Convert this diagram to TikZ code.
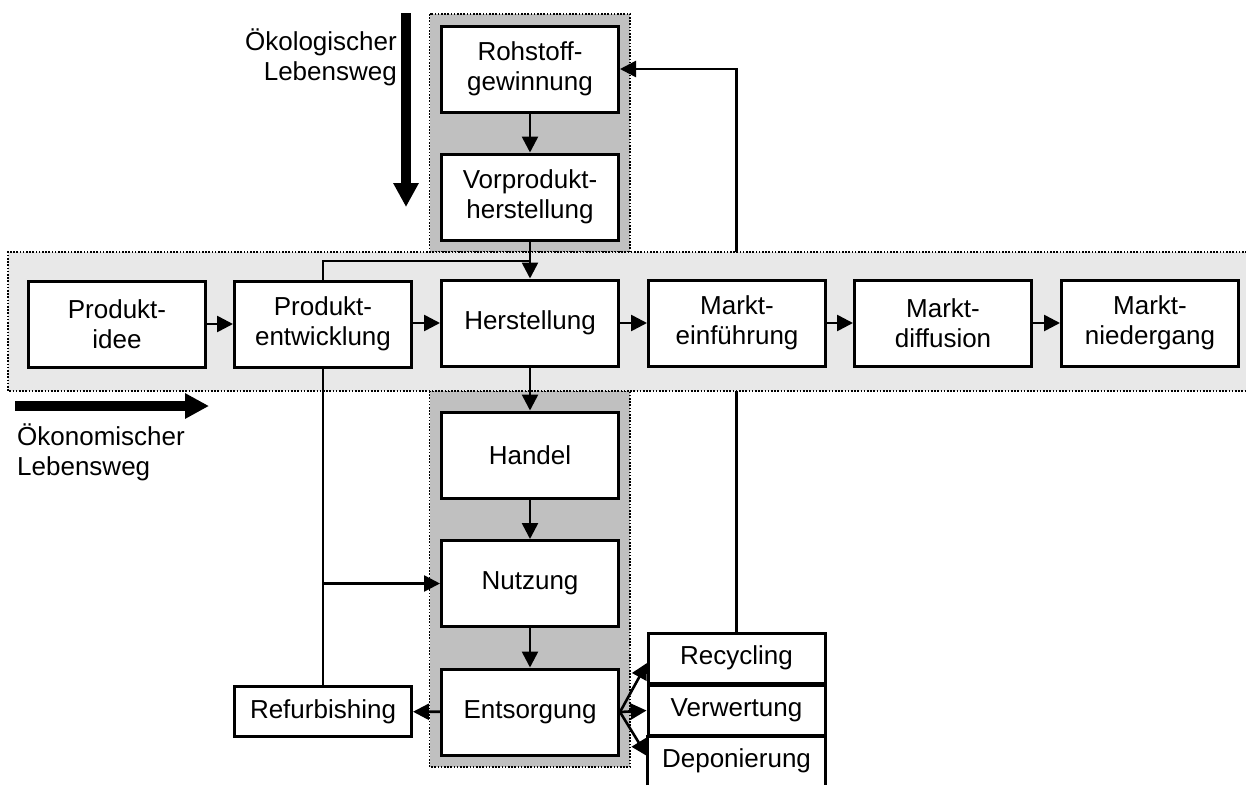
\documentclass[tikz,border=0pt]{standalone}
\usepackage{fontspec}
\setmainfont{Liberation Sans}
\usetikzlibrary{arrows.meta}
\pgfdeclarelayer{paper}
\pgfdeclarelayer{back}
\pgfdeclarelayer{feed}
\pgfdeclarelayer{band}
\pgfsetlayers{paper,back,feed,band,main}
\definecolor{bandlight}{HTML}{E8E8E8}
\definecolor{banddark}{HTML}{C0C0C0}
\begin{document}
\begin{tikzpicture}[x=1pt,y=-1pt,
  font=\fontsize{26}{30}\selectfont,
  stage/.style={draw,fill=white,line width=3pt,minimum width=177pt,minimum height=86pt,align=center,inner sep=0pt},
  flat/.style={stage,minimum height=50pt},
  link/.style={line width=2.6pt},
  arr/.style={link,-{Triangle[length=16pt,width=16pt]}},
  bigarr/.style={line width=10pt,-{Triangle[length=24pt,width=24pt]}},
  dotframe/.style={draw,line width=1.6pt,dash pattern=on 1.6pt off 1.6pt},
  caption/.style={inner sep=0pt}]
\useasboundingbox (0,0) rectangle (1246,785);
\begin{pgfonlayer}{paper}
  \fill[white] (0,0) rectangle (1246,785);
\end{pgfonlayer}

% vertical (ecological) bands
\begin{pgfonlayer}{back}
  \path[dotframe,fill=banddark] (429.5,14) rectangle (630,252);
  \path[dotframe,fill=banddark] (429.5,391) rectangle (630,767);
\end{pgfonlayer}
% horizontal (economic) band, open to the right
\begin{pgfonlayer}{band}
  \fill[bandlight] (8,252) rectangle (1250,391);
  \draw[dotframe] (1250,252) -- (8,252) -- (8,391) -- (1250,391);
\end{pgfonlayer}

% ecological chain
\node[stage] (rohstoff) at (530,69) {Rohstoff-\\gewinnung};
\node[stage] (vorprodukt) at (530,197) {Vorprodukt-\\herstellung};

% economic chain
\node[stage] (idee) at (117,324) {Produkt-\\idee};
\node[stage] (entwicklung) at (323,324) {Produkt-\\entwicklung};
\node[stage] (herstellung) at (530,323) {Herstellung};
\node[stage] (einfuehrung) at (737,323) {Markt-\\einführung};
\node[stage] (diffusion) at (943,323) {Markt-\\diffusion};
\node[stage] (niedergang) at (1150,323) {Markt-\\niedergang};

% use phase
\node[stage] (handel) at (530,455) {Handel};
\node[stage] (nutzung) at (530,583.5) {Nutzung};
\node[stage] (entsorgung) at (530,712) {Entsorgung};
\node[flat] (refurb) at (323,711.5) {Refurbishing};

% end-of-life options
\node[flat] (recycling) at (736.5,658) {Recycling};
\node[flat] (verwertung) at (736.5,710.5) {Verwertung};
\node[minimum width=177pt,minimum height=48pt,inner sep=0pt] (deponie) at (736.5,761) {Deponierung};
\draw[line width=3pt] (deponie.south west) -- (deponie.north west) -- (deponie.north east) -- (deponie.south east);

% connectors
\draw[arr] (rohstoff) -- (vorprodukt);
\draw[arr] (vorprodukt) -- (herstellung);
\coordinate (join) at (530,261);
\draw[link] (entwicklung.north) |- (join);
\draw[arr] (idee) -- (entwicklung);
\draw[arr] (entwicklung.east |- herstellung.west) -- (herstellung);
\draw[arr] (herstellung) -- (einfuehrung);
\draw[arr] (einfuehrung) -- (diffusion);
\draw[arr] (diffusion) -- (niedergang);
\draw[arr] (herstellung) -- (handel);
\draw[arr] (handel) -- (nutzung);
\draw[arr] (nutzung) -- (entsorgung);
\draw[arr] (entsorgung) -- (refurb);
\draw[link] (entwicklung.south) -- (refurb.north);
\coordinate (branch) at (entwicklung.south |- nutzung.west);
\draw[arr] (branch) -- (nutzung.west);
\coordinate (fanA) at (647,663);
\coordinate (fanC) at (647,756);
\draw[arr] (entsorgung.east) -- (fanA);
\draw[arr] (entsorgung.east) -- (verwertung.west);
\draw[arr] (entsorgung.east) -- (fanC);
\begin{pgfonlayer}{feed}
  \draw[arr] (recycling.north) -- (recycling.north |- rohstoff.east) -- (rohstoff.east);
\end{pgfonlayer}

% life-cycle direction arrows
\coordinate (ecoTop) at (406,13);
\coordinate (ecoEnd) at (406,207);
\draw[bigarr] (ecoTop) -- (ecoEnd);
\node[caption,align=right,anchor=east] (ecoLabel) at (397,57) {Ökologischer\\Lebensweg};
\coordinate (ecnStart) at (15,406);
\coordinate (ecnEnd) at (209,406);
\draw[bigarr] (ecnStart) -- (ecnEnd);
\node[caption,align=left,anchor=west] (ecnLabel) at (17,452) {Ökonomischer\\Lebensweg};
\end{tikzpicture}
\end{document}
